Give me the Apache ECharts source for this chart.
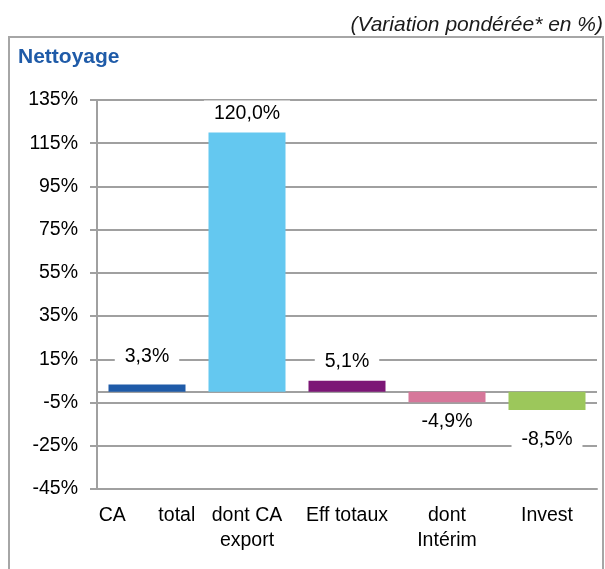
<!DOCTYPE html>
<html>
<head>
<meta charset="utf-8">
<script src="https://cdn.jsdelivr.net/npm/echarts@6/dist/echarts.min.js"></script>
<style>
  html, body { margin: 0; padding: 0; background: #fff; }
  #chart { width: 605px; height: 569px; }
</style>
</head>
<body>
<div id="chart"></div>
<script>
// Weighted variation by indicator, cleaning sector
const categories = ['CA      total', 'dont CA\nexport', 'Eff totaux', 'dont\nIntérim', 'Invest'];
const values = [3.3, 120.0, 5.1, -4.9, -8.5];
const barColors = ['#1F5BA8', '#64C8F0', '#7C1676', '#D6779A', '#9CC75B'];
const yTicks = { min: -45, max: 135, step: 20 };

const FONT = '"Liberation Sans", Arial, sans-serif';
const chart = echarts.init(document.getElementById('chart'), null, { renderer: 'canvas' });

const fmt = v => v.toFixed(1).replace('.', ',') + '%';

chart.setOption({
  animation: false,
  backgroundColor: '#fff',
  textStyle: { fontFamily: FONT },
  graphic: [
    { type: 'rect', shape: { x: 9, y: 37, width: 594, height: 560 },
      style: { fill: 'none', stroke: '#A6A6A6', lineWidth: 2 }, z: 0 },
    { type: 'text', left: 18, top: 47,
      style: { text: 'Nettoyage', fill: '#1F5BA8', font: 'bold 21px ' + FONT } },
    { type: 'text', right: 2, top: 15,
      style: { text: '(Variation pondérée* en %)', fill: '#1a1a1a', font: 'italic 21px ' + FONT } }
  ],
  grid: { left: 97, right: 8, top: 100, bottom: 80, containLabel: false },
  xAxis: {
    type: 'category',
    data: categories,
    axisLine: { onZero: false, lineStyle: { color: '#A0A0A0', width: 2 } },
    axisTick: { show: false },
    axisLabel: { color: '#000', fontSize: 19.5, lineHeight: 25, margin: 14, fontFamily: FONT, interval: 0 }
  },
  yAxis: {
    type: 'value',
    min: yTicks.min,
    max: yTicks.max,
    interval: yTicks.step,
    axisLine: { show: true, lineStyle: { color: '#A0A0A0', width: 2 } },
    axisTick: { show: true, length: 7, lineStyle: { color: '#A0A0A0', width: 2 } },
    splitLine: { lineStyle: { color: '#A0A0A0', width: 2 } },
    axisLabel: { color: '#000', fontSize: 19.5, margin: 19, fontFamily: FONT, formatter: v => v + '%' }
  },
  series: [{
    type: 'bar',
    barWidth: '77%',
    data: values.map((v, i) => ({
      value: v,
      itemStyle: { color: barColors[i] },
      label: {
        position: v >= 0 ? 'top' : 'bottom',
        distance: i === 0 ? 15 : (i === 4 ? 17 : 6)
      }
    })),
    label: {
      show: true,
      formatter: p => fmt(p.value),
      color: '#000',
      fontSize: 19.5,
      fontFamily: FONT,
      backgroundColor: '#fff',
      padding: [3, 10]
    },
    markLine: {
      silent: true,
      symbol: 'none',
      label: { show: false },
      lineStyle: { color: '#A0A0A0', width: 2, type: 'solid' },
      data: [{ yAxis: 0 }],
      z: 1
    },
    z: 3
  }]
});
</script>
</body>
</html>
